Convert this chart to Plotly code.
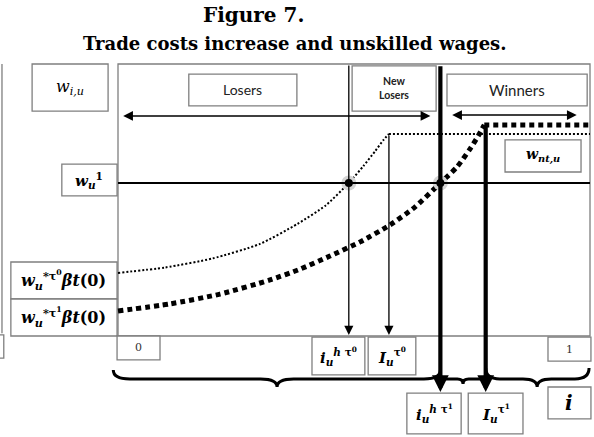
import plotly.graph_objects as go

# ---------------- data (i on x: 0..1, wage index on y: frame 0..1) ----------------
thin_i = [0.0, 0.10, 0.20, 0.30, 0.38, 0.44, 0.489, 0.52, 0.545, 0.563, 0.574]
thin_w = [0.232, 0.252, 0.285, 0.338, 0.412, 0.480, 0.5625, 0.625, 0.680, 0.722, 0.743]
thick_i = [0.0, 0.110, 0.216, 0.322, 0.386, 0.449, 0.513, 0.576, 0.629, 0.683, 0.718, 0.746, 0.763, 0.776]
thick_w = [0.092, 0.118, 0.154, 0.206, 0.246, 0.294, 0.346, 0.408, 0.474, 0.5625, 0.621, 0.688, 0.735, 0.776]

w_u1 = 0.5625          # w_u^1 level
w_nt0 = 0.743          # plateau, tau0
w_nt1 = 0.776          # plateau, tau1
i_h0 = 0.489           # i_u^{h tau0}
I_0 = 0.574            # I_u^{tau0}
i_h1 = 0.683           # i_u^{h tau1}
I_1 = 0.779            # I_u^{tau1}

XR = [-0.25, 1.00847]
YR = [-0.3713, 1.2353]

GRAY = "#7f7f7f"
SERIF = "DejaVu Serif"
SANS = "Lato"

fig = go.Figure()

shapes = []
annotations = []

def box(x0, x1, y0, y1, color=GRAY, w=1.3):
    shapes.append(dict(type="rect", xref="x", yref="y", x0=x0, x1=x1, y0=y0, y1=y1,
                       line=dict(color=color, width=w), fillcolor="white", layer="below"))

def label(x, y, text, size, family=SERIF, color="black"):
    annotations.append(dict(x=x, y=y, xref="x", yref="y", text=text, showarrow=False,
                            font=dict(family=family, size=size, color=color),
                            xanchor="center", yanchor="middle"))

def arrow(x, y, ax, ay, width, size=1.0, head=2, side="end"):
    annotations.append(dict(x=x, y=y, ax=ax, ay=ay, xref="x", yref="y", axref="x", ayref="y",
                            text="", showarrow=True, arrowhead=head, startarrowhead=head,
                            arrowsize=size, startarrowsize=size, arrowwidth=width,
                            arrowcolor="black", arrowside=side, standoff=0, startstandoff=0))

def line(x0, y0, x1, y1, width, color="black"):
    shapes.append(dict(type="line", xref="x", yref="y", x0=x0, y0=y0, x1=x1, y1=y1,
                       line=dict(color=color, width=width), layer="above"))

# main frame
box(0, 1, 0, 1)
# cropped boxes at far left
line(-0.2458, 1.0, -0.2458, 0.01, 1.3, GRAY)
box(-0.27, -0.242, 0.004, -0.081)

# label boxes
box(-0.182, -0.021, 1.0, 0.827)      # w_{i,u}
box(0.150, 0.379, 0.963, 0.846)      # Losers
box(0.496, 0.674, 0.993, 0.827)      # New Losers
box(0.697, 0.994, 0.963, 0.846)      # Winners
box(0.820, 0.981, 0.721, 0.603)      # w_nt,u
box(-0.119, -0.002, 0.632, 0.515)    # w_u^1
box(-0.227, -0.002, 0.272, 0.136)    # tau0 intercept
box(-0.227, -0.002, 0.136, 0.0)      # tau1 intercept
box(-0.002, 0.089, 0.0, -0.088)      # 0
box(0.411, 0.523, -0.004, -0.143)    # i_h0
box(0.530, 0.631, -0.004, -0.143)    # I_0
box(0.911, 1.002, -0.004, -0.092)    # 1
box(0.612, 0.727, -0.210, -0.360)    # i_h1
box(0.742, 0.858, -0.210, -0.360)    # I_1
box(0.911, 1.002, -0.1875, -0.305)   # i

# w_u^1 horizontal
line(0, w_u1, 1, w_u1, 2)

# curly braces
def brace(x0, x1, xm, yt, ym, yp, d):
    return (f"M{x0},{yt} Q{x0},{ym} {x0+d},{ym} L{xm-d},{ym} Q{xm},{ym} {xm},{yp} "
            f"Q{xm},{ym} {xm+d},{ym} L{x1-d},{ym} Q{x1},{ym} {x1},{yt}")

for (b0, b1, bm, yt, yp, d) in [(-0.01, i_h1, 0.337, -0.125, -0.1875, 0.035),
                                (i_h1, I_1, 0.731, -0.14, -0.176, 0.012),
                                (I_1, 0.998, 0.888, -0.118, -0.1875, 0.03)]:
    shapes.append(dict(type="path", xref="x", yref="y", path=brace(b0, b1, bm, yt, -0.158, yp, d),
                       line=dict(color="black", width=3), layer="above"))

# curves (rising part smooth, plateau straight)
THIN = dict(color="black", width=2, dash="2px,2px")
THICK = dict(color="black", width=5, dash="5px,4px")
fig.add_trace(go.Scatter(x=thin_i, y=thin_w, mode="lines",
                         line=dict(**THIN, shape="spline", smoothing=0.6),
                         hoverinfo="skip", showlegend=False))
fig.add_trace(go.Scatter(x=[thin_i[-1], 1.0], y=[w_nt0, w_nt0], mode="lines",
                         line=THIN, hoverinfo="skip", showlegend=False))
fig.add_trace(go.Scatter(x=thick_i, y=thick_w, mode="lines",
                         line=dict(**THICK, shape="spline", smoothing=0.6),
                         hoverinfo="skip", showlegend=False))
fig.add_trace(go.Scatter(x=[thick_i[-1], 1.0], y=[w_nt1, w_nt1], mode="lines",
                         line=THICK, hoverinfo="skip", showlegend=False))

# intersection points
fig.add_trace(go.Scatter(x=[i_h0, i_h1], y=[w_u1, w_u1], mode="markers",
                         marker=dict(size=15, color="#d4d4d4", line=dict(width=0)),
                         hoverinfo="skip", showlegend=False))
fig.add_trace(go.Scatter(x=[i_h0, i_h1], y=[w_u1, w_u1], mode="markers",
                         marker=dict(size=8, color="black"),
                         hoverinfo="skip", showlegend=False))

# arrows
arrow(0.011, 0.809, 0.665, 0.809, 1.5, 1.3, 2, "end+start")    # losers
arrow(0.708, 0.8125, 0.975, 0.8125, 1.5, 1.3, 2, "end+start")  # winners
arrow(i_h0, 0.004, i_h0, 1.0, 1.3, 1.4)
arrow(I_0, 0.004, I_0, w_nt0, 1.3, 1.4)
arrow(i_h1, -0.206, i_h1, 0.997, 4.2, 0.8)
arrow(I_1, -0.206, I_1, w_nt1, 4.2, 0.8)

# texts
label(0.288, 1.180, "<b>Figure 7.</b>", 20)
label(0.373, 1.077, "<b>Trade costs increase and unskilled wages.</b>", 18)

label(-0.1015, 0.9135, "<i>w</i><sub><i>i,u</i></sub>", 16)
label(0.2645, 0.9045, "Losers", 14, SANS, "#222")
label(0.585, 0.91, "<b>New<br>Losers</b>", 10.5, SANS, "#222")
label(0.8455, 0.9045, "Winners", 15, SANS, "#222")
label(0.9005, 0.662, "<b><i>w</i></b><sub><b><i>nt,u</i></b></sub>", 14)
label(-0.0605, 0.5735, "<b><i>w</i></b><sub><b><i>u</i></b></sub><sup><b>1</b></sup>", 15)
label(-0.1145, 0.204, "<b><i>w</i></b><sub><b><i>u</i></b></sub><sup><b>*τ<sup>0</sup></b></sup><b><i>βt</i>(0)</b>", 16)
label(-0.1145, 0.068, "<b><i>w</i></b><sub><b><i>u</i></b></sub><sup><b>*τ<sup>1</sup></b></sup><b><i>βt</i>(0)</b>", 16)
label(0.0435, -0.044, "0", 11, SERIF, "#333")
label(0.9565, -0.048, "1", 11, SERIF, "#333")
label(0.467, -0.0735, "<b><i>i</i></b><sub><b><i>u</i></b></sub><sup><b><i>h</i> τ<sup>0</sup></b></sup>", 15)
label(0.5805, -0.0735, "<b><i>I</i></b><sub><b><i>u</i></b></sub><sup><b>τ<sup>0</sup></b></sup>", 15)
label(0.6695, -0.285, "<b><i>i</i></b><sub><b><i>u</i></b></sub><sup><b><i>h</i> τ<sup>1</sup></b></sup>", 15)
label(0.80, -0.285, "<b><i>I</i></b><sub><b><i>u</i></b></sub><sup><b>τ<sup>1</sup></b></sup>", 15)
label(0.9565, -0.246, "<b><i>i</i></b>", 20)

fig.update_layout(
    width=594, height=437,
    margin=dict(l=0, r=0, t=0, b=0),
    paper_bgcolor="white", plot_bgcolor="white",
    xaxis=dict(range=XR, visible=False, fixedrange=True),
    yaxis=dict(range=YR, visible=False, fixedrange=True),
    shapes=shapes, annotations=annotations,
    showlegend=False,
)

fig.write_html("out.html", config={"displayModeBar": False},
               post_script="document.body.style.margin='0';document.body.style.overflow='hidden';")
